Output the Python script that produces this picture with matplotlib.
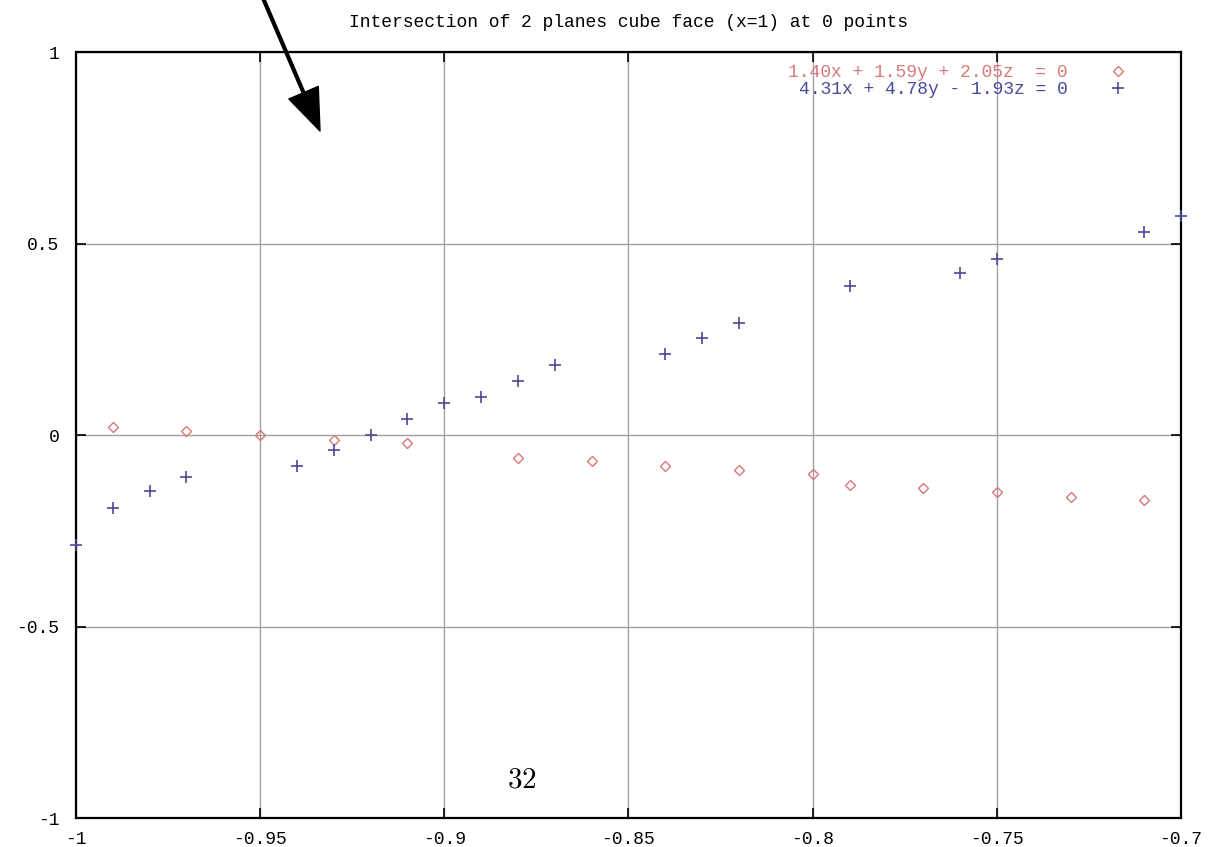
import matplotlib.pyplot as plt

# plane 1: 1.40x + 1.59y + 2.05z = 0 (diamonds)
red_x = [-0.99, -0.97, -0.95, -0.93, -0.91, -0.88, -0.86, -0.84, -0.82, -0.80,
         -0.79, -0.77, -0.75, -0.73, -0.71]
red_y = [0.021, 0.010, 0.000, -0.013, -0.021, -0.060, -0.068, -0.081, -0.091, -0.102,
         -0.131, -0.138, -0.149, -0.162, -0.170]

# plane 2: 4.31x + 4.78y - 1.93z = 0 (plus)
blue_x = [-1.00, -0.99, -0.98, -0.97, -0.94, -0.93, -0.92, -0.91, -0.90, -0.89,
          -0.88, -0.87, -0.84, -0.83, -0.82, -0.79, -0.76, -0.75, -0.71, -0.70]
blue_y = [-0.287, -0.190, -0.146, -0.110, -0.081, -0.039, 0.000, 0.042, 0.084, 0.100,
          0.141, 0.183, 0.211, 0.253, 0.292, 0.389, 0.423, 0.460, 0.530, 0.572]

labels = ['1.40x + 1.59y + 2.05z  = 0', '4.31x + 4.78y - 1.93z = 0']
title = 'Intersection of 2 planes cube face (x=1) at 0 points'
x_ticks = [-1, -0.95, -0.9, -0.85, -0.8, -0.75, -0.7]
x_ticklabels = ['-1', '-0.95', '-0.9', '-0.85', '-0.8', '-0.75', '-0.7']
y_ticks = [-1, -0.5, 0, 0.5, 1]
y_ticklabels = ['-1', '-0.5', '0', '0.5', '1']

mono = 'Liberation Mono'
red = '#d87878'
blue = '#4a4a96'

fig = plt.figure(figsize=(12.23, 8.47), dpi=100)
ax = fig.add_axes([0.0621, 0.0342, 0.9036, 0.9044])

ax.plot(red_x, red_y, linestyle='none', marker='D', markersize=5.5,
        markerfacecolor='none', markeredgecolor=red, markeredgewidth=1,
        label=labels[0], clip_on=False, zorder=3)
ax.plot(blue_x, blue_y, linestyle='none', marker='+', markersize=8,
        markeredgewidth=1.2, color=blue, label=labels[1], clip_on=False, zorder=3)

ax.set_xlim(-1, -0.7)
ax.set_ylim(-1, 1)
ax.set_xticks(x_ticks)
ax.set_xticklabels(x_ticklabels)
ax.set_yticks(y_ticks)
ax.set_yticklabels(y_ticklabels)
ax.tick_params(direction='in', length=7, width=1.2, top=True, right=True,
               labelsize=13, colors='black', pad=9)
ax.tick_params(axis='y', pad=12)
for lab in ax.get_xticklabels() + ax.get_yticklabels():
    lab.set_fontfamily(mono)
ax.grid(True, color='#a0a0a0', linewidth=1)
for s in ax.spines.values():
    s.set_linewidth(1.6)

ax.set_title(title, fontfamily=mono, fontsize=13, pad=18)

leg = ax.legend(loc='upper right', bbox_to_anchor=(0.961, 0.996), frameon=False,
                markerfirst=False, prop={'family': mono, 'size': 13},
                labelspacing=0.0, handlelength=1.2, handletextpad=2.2,
                borderpad=0)
leg.get_texts()[0].set_color(red)
leg.get_texts()[1].set_color(blue)

# page number and pointer arrow from the surrounding document
ax.text(-0.879, -0.90, '$32$', math_fontfamily='cm', fontsize=21,
        ha='center', va='center')
ax.annotate('', xy=(320 / 1223, 1 - 131 / 847), xycoords='figure fraction',
            xytext=(262 / 1223, 1.005), textcoords='figure fraction',
            arrowprops=dict(facecolor='black', edgecolor='black', width=2,
                            headwidth=23, headlength=30, shrink=0),
            annotation_clip=False)

fig.savefig('out.png', dpi=100)
